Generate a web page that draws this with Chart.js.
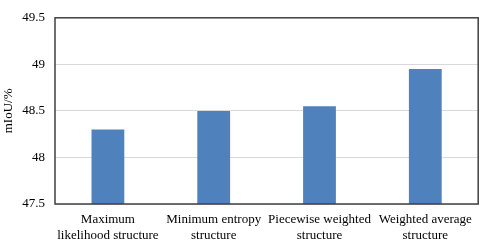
<!DOCTYPE html>
<html>
<head>
<meta charset="utf-8">
<script src="https://cdn.jsdelivr.net/npm/chart.js@4/dist/chart.umd.min.js"></script>
<style>
html,body{margin:0;padding:0;background:#fff;}
#wrap{width:480px;height:240px;}
</style>
</head>
<body>
<div id="wrap"><canvas id="c" width="480" height="240"></canvas></div>
<script>
const categories = [
  ["Maximum", "likelihood structure"],
  ["Minimum entropy", "structure"],
  ["Piecewise weighted", "structure"],
  ["Weighted average", "structure"]
];
const values = [48.3, 48.5, 48.55, 48.95];
const yTicks = [47.5, 48, 48.5, 49, 49.5];
const yTitle = "mIoU/%";

const frame = {
  id: 'frame',
  afterDatasetsDraw(chart) {
    const a = chart.chartArea, ctx = chart.ctx;
    ctx.save();
    ctx.strokeStyle = '#404040';
    ctx.lineWidth = 1.5;
    ctx.strokeRect(a.left, a.top, a.right - a.left, a.bottom - a.top);
    ctx.restore();
  }
};

new Chart(document.getElementById('c'), {
  type: 'bar',
  data: {
    labels: categories,
    datasets: [{
      data: values,
      backgroundColor: '#4F81BD',
      borderWidth: 0,
      categoryPercentage: 1,
      barPercentage: 0.31
    }]
  },
  options: {
    responsive: false,
    animation: false,
    layout: { padding: { left: 0, right: 1, top: 6, bottom: 0 } },
    plugins: { legend: { display: false }, tooltip: { enabled: false } },
    scales: {
      x: {
        grid: { display: false, drawTicks: false },
        border: { display: false },
        ticks: {
          color: '#000',
          font: { family: 'Liberation Serif', size: 13 },
          padding: 8,
          maxRotation: 0,
          autoSkip: false
        },
        afterFit(s) { s.height = 36; }
      },
      y: {
        min: 47.5,
        max: 49.5,
        afterBuildTicks(s) { s.ticks = yTicks.map(v => ({ value: v })); },
        grid: { color: '#d9d9d9', lineWidth: 1, drawTicks: false },
        border: { display: false },
        ticks: {
          color: '#000',
          font: { family: 'Liberation Serif', size: 13 },
          padding: 10,
          callback: v => String(v)
        },
        title: {
          display: true,
          text: yTitle,
          color: '#000',
          font: { family: 'Liberation Serif', size: 13 },
          padding: { top: 1, bottom: 0 }
        },
        afterFit(s) { s.width = 55; }
      }
    }
  },
  plugins: [frame]
});
</script>
</body>
</html>
